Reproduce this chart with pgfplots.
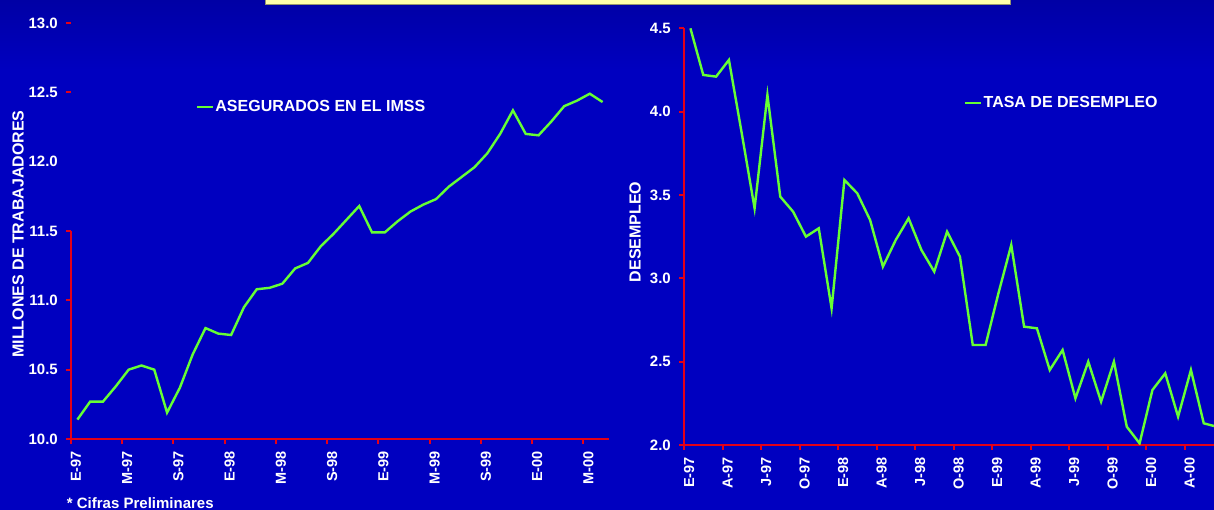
\documentclass[border=0pt]{standalone}
\usepackage{fontspec}
\setmainfont{Liberation Sans}
\usepackage{pgfplots}
\pgfplotsset{compat=1.18}
\usepackage{pgfplotstable}

\definecolor{slideblue}{RGB}{0,0,192}
\definecolor{slidetop}{RGB}{0,0,165}
\definecolor{axisred}{RGB}{228,0,24}
\definecolor{linegreen}{RGB}{102,255,51}
\definecolor{titleyellow}{RGB}{255,255,170}
\definecolor{titleedge}{RGB}{150,150,110}

% Asegurados en el IMSS (millones), enero 1997 - junio 2000
\pgfplotstableread{
x y
0.5 10.14
1.5 10.27
2.5 10.27
3.5 10.38
4.5 10.50
5.5 10.53
6.5 10.50
7.5 10.19
8.5 10.37
9.5 10.61
10.5 10.80
11.5 10.76
12.5 10.75
13.5 10.95
14.5 11.08
15.5 11.09
16.5 11.12
17.5 11.23
18.5 11.27
19.5 11.39
20.5 11.48
21.5 11.58
22.5 11.68
23.5 11.49
24.5 11.49
25.5 11.57
26.5 11.64
27.5 11.69
28.5 11.73
29.5 11.82
30.5 11.89
31.5 11.96
32.5 12.06
33.5 12.20
34.5 12.37
35.5 12.20
36.5 12.19
37.5 12.29
38.5 12.40
39.5 12.44
40.5 12.49
41.5 12.43
}\imss

% Tasa de desempleo abierto (%), enero 1997 - junio 2000
\pgfplotstableread{
x y
0.5 4.50
1.5 4.22
2.5 4.21
3.5 4.31
4.5 3.87
5.5 3.42
6.5 4.10
7.5 3.49
8.5 3.40
9.5 3.25
10.5 3.30
11.5 2.82
12.5 3.59
13.5 3.51
14.5 3.35
15.5 3.07
16.5 3.23
17.5 3.36
18.5 3.17
19.5 3.04
20.5 3.28
21.5 3.13
22.5 2.60
23.5 2.60
24.5 2.91
25.5 3.20
26.5 2.71
27.5 2.70
28.5 2.45
29.5 2.57
30.5 2.28
31.5 2.50
32.5 2.26
33.5 2.50
34.5 2.11
35.5 2.01
36.5 2.33
37.5 2.43
38.5 2.17
39.5 2.45
40.5 2.13
41.5 2.11
}\desempleo

\newcommand{\labelfont}{\fontsize{16}{16}\selectfont\bfseries}

\pgfplotsset{
  slide axis/.style={
    scale only axis,
    axis lines*=left,
    axis line style={draw=axisred, line width=2.2pt},
    tick style={draw=axisred, line width=2pt},
    tick align=outside,
    major tick length=5pt,
    xmin=0, xmax=42,
    /pgf/number format/.cd, fixed, fixed zerofill, precision=1,
      assume math mode=true,
    /pgfplots/.cd,
    yticklabel style={text=white, inner sep=0pt, xshift=-8pt,
      font=\fontsize{15}{15}\selectfont\bfseries},
    xticklabel style={text=white, inner sep=0pt, xshift=5pt, yshift=-7pt,
      rotate=90, anchor=east, font=\fontsize{14.5}{14.5}\selectfont\bfseries},
    legend style={draw=none, fill=none, text=white, font=\labelfont,
      inner sep=0pt, nodes={inner sep=1pt}},
    legend image code/.code={\draw[##1] (0pt,0pt) -- (16pt,0pt);},
  },
}

\begin{document}
\begin{tikzpicture}[x=1pt,y=1pt]
\useasboundingbox (0,0) rectangle (1214,510);
\clip (0,0) rectangle (1214,510);

% slide background and title strip
\fill[slideblue] (0,0) rectangle (1214,510);
\shade[top color=slidetop, bottom color=slideblue] (0,440) rectangle (1214,510);
\fill[titleyellow] (265,505.5) rectangle (1010,511);
\draw[titleedge, line width=0.8pt] (265,511) -- (265,505.5) -- (1010,505.5) -- (1010,511);

% left panel: insured workers
\begin{axis}[slide axis,
  at={(71pt,71pt)}, anchor=south west,
  width=538pt, height=416pt,
  ymin=10, ymax=13,
  ytick={10,10.5,11,11.5,12.5,13},
  extra y ticks={12},
  extra y tick style={tick style={draw=none}},
  y axis line style={draw=none},
  xtick={0,4,...,40},
  xticklabels={E-97,M-97,S-97,E-98,M-98,S-98,E-99,M-99,S-99,E-00,M-00},
  clip=false,
  legend style={at={(axis description cs:0.232,0.798)}, anchor=west},
]
\draw[axisred, line width=2.2pt] (axis cs:0,10) -- (axis cs:0,11.5);
\addplot[linegreen, line width=2.4pt] table[x=x, y=y] {\imss};
\addlegendentry{ASEGURADOS EN EL IMSS}
\end{axis}

% right panel: unemployment rate
\begin{axis}[slide axis,
  at={(684pt,65pt)}, anchor=south west,
  width=539pt, height=416.7pt,
  ymin=2, ymax=4.5,
  ytick={2,2.5,...,4.5},
  xtick={0,3,...,39},
  xticklabels={E-97,A-97,J-97,O-97,E-98,A-98,J-98,O-98,E-99,A-99,J-99,O-99,E-00,A-00},
  legend style={at={(axis description cs:0.5196,0.8207)}, anchor=west},
]
\addplot[linegreen, line width=2.4pt] table[x=x, y=y] {\desempleo};
\addlegendentry{TASA DE DESEMPLEO}
\end{axis}

% axis titles and footnote
\node[text=white, font=\labelfont, rotate=90, inner sep=0pt] at (18,276) {MILLONES DE TRABAJADORES};
\node[text=white, font=\labelfont, rotate=90, inner sep=0pt] at (635,278) {DESEMPLEO};
\node[text=white, font=\fontsize{15}{15}\selectfont\bfseries, anchor=base west, inner sep=0pt] at (66.7,1.8) {* Cifras Preliminares};
\end{tikzpicture}
\end{document}
